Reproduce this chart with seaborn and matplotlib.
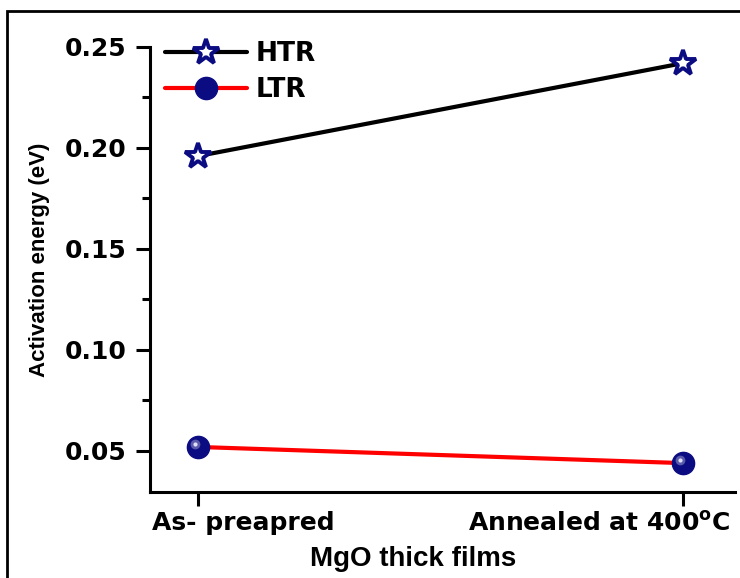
import matplotlib
matplotlib.use("Agg")
import matplotlib.pyplot as plt
import matplotlib.transforms as mtransforms
import seaborn as sns
import pandas as pd
from matplotlib.patches import Rectangle
from matplotlib.ticker import MultipleLocator, FormatStrFormatter

categories = ["As- preapred", "Annealed at 400$^{\\mathregular{o}}$C"]
htr = [0.196, 0.242]
ltr = [0.052, 0.044]

sns.set_style("ticks")
plt.rcParams['font.family'] = ['DejaVu Sans']
for k in ["text.color", "axes.labelcolor", "xtick.color", "ytick.color", "axes.edgecolor"]:
    plt.rcParams[k] = "black"

fig = plt.figure(figsize=(7.4, 5.78), dpi=100)
ax = fig.add_axes([150/740, 1 - 492/578, 585/740, 445/578])

pos = list(range(len(categories)))
df = pd.DataFrame({"pos": pos, "HTR": htr, "LTR": ltr})

navy = "#0c0c82"
sns.lineplot(data=df, x="pos", y="HTR", ax=ax, color="black", lw=3,
             marker="*", markersize=19, markerfacecolor="white",
             markeredgecolor=navy, markeredgewidth=2.8, label="HTR")
sns.lineplot(data=df, x="pos", y="LTR", ax=ax, color="#ff0000", lw=3,
             marker="o", markersize=16, markerfacecolor=navy,
             markeredgecolor=navy, markeredgewidth=1, label="LTR")
# soft highlight on the spheres
hl = ax.transData + mtransforms.ScaledTranslation(-3/100, 3/100, fig.dpi_scale_trans)
ax.plot(df["pos"], df["LTR"], ls="none", marker="o", markersize=7,
        markerfacecolor="#6f6fb8", markeredgecolor="none", alpha=0.8, transform=hl)
ax.plot(df["pos"], df["LTR"], ls="none", marker="o", markersize=3,
        markerfacecolor="#e0e0f4", markeredgecolor="none", transform=hl)

ax.set_xlim(-48/485, 1 + 52/485)
ax.set_ylim(0.0297, 0.25)
ax.set_xticks(pos)
ax.set_xticklabels(categories)
ax.yaxis.set_major_locator(MultipleLocator(0.05))
ax.yaxis.set_minor_locator(MultipleLocator(0.025))
ax.yaxis.set_major_formatter(FormatStrFormatter('%.2f'))

for s in ["top", "right"]:
    ax.spines[s].set_visible(False)
for s in ["left", "bottom"]:
    ax.spines[s].set_linewidth(2.2)

ax.tick_params(axis="both", which="major", direction="out", length=10, width=2.2,
               labelsize=18)
ax.tick_params(axis="y", which="major", pad=7)
ax.tick_params(axis="x", which="major", pad=4)
ax.tick_params(axis="y", which="minor", direction="out", length=6, width=2.2)
for lab in ax.get_xticklabels() + ax.get_yticklabels():
    lab.set_fontweight("bold")

# x tick label placement as in the reference
xl = ax.get_xticklabels()
xl[0].set_ha("left")
xl[0].set_transform(xl[0].get_transform() + mtransforms.ScaledTranslation(-46/100, 0, fig.dpi_scale_trans))
xl[1].set_ha("right")
xl[1].set_transform(xl[1].get_transform() + mtransforms.ScaledTranslation(47/100, 0, fig.dpi_scale_trans))

ax.set_xlabel("MgO thick films", fontsize=20, fontweight="bold",
              family=["Liberation Sans", "DejaVu Sans"])
ax.xaxis.set_label_coords((413-150)/585, (492-546)/445)
ax.set_ylabel("Activation energy (eV)", fontsize=16, fontweight="bold",
              family=["Liberation Sans", "DejaVu Sans"])
ax.yaxis.set_label_coords((50-150)/585, (492-260)/445)

leg = ax.legend(loc="upper left", frameon=False, fontsize=19, handlelength=3.1,
                borderaxespad=0, borderpad=0, labelspacing=0.38, handletextpad=0.35,
                bbox_to_anchor=((165-150)/585, (492-41)/445))
for t in leg.get_texts():
    t.set_fontweight("bold")

fig.patches.append(Rectangle((7/740, -0.05), 1.2, 1 - 11/578 + 0.05,
                             transform=fig.transFigure, fill=False,
                             edgecolor="black", lw=2, zorder=0))

fig.savefig("out.png", dpi=100)
